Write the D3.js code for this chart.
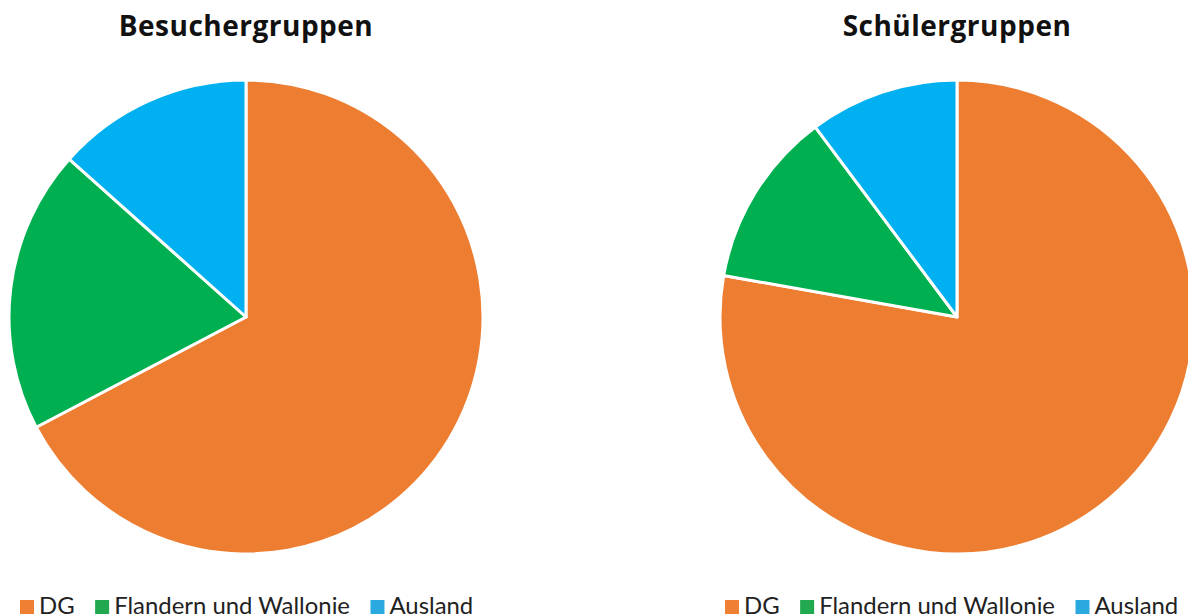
<!DOCTYPE html>
<html>
<head>
<meta charset="utf-8">
<script src="https://cdn.jsdelivr.net/npm/d3@7"></script>
<style>
  body { margin: 0; background: #fff; overflow: hidden; }
  text { font-family: Lato, "Open Sans", sans-serif; }
</style>
</head>
<body>
<div id="chart"></div>
<script>
// categories and shares (percent)
const categories = ["DG", "Flandern und Wallonie", "Ausland"];
const besucherValues = [67.3, 19.3, 13.4];
const schuelerValues = [77.8, 12.0, 10.2];
const titles = ["Besuchergruppen", "Schülergruppen"];

const sliceColors = ["#ED7D31", "#00B050", "#00B0F0"];
const legendColors = ["#EE7F33", "#22A84F", "#2AA9E0"];

const width = 1188, height = 615;
const radius = 237;

const svg = d3.select("#chart").append("svg")
    .attr("width", width)
    .attr("height", height);

const color = d3.scaleOrdinal().domain(categories).range(sliceColors);
const legendColor = d3.scaleOrdinal().domain(categories).range(legendColors);

const pie = d3.pie().sort(null).value(d => d.value);
const arc = d3.arc().innerRadius(0).outerRadius(radius);

const charts = [
  {title: titles[0], values: besucherValues, cx: 246, legendX: 20},
  {title: titles[1], values: schuelerValues, cx: 957, legendX: 725}
];

charts.forEach(c => {
  let data = categories.map((k, i) => ({key: k, value: c.values[i]}));

  // title
  svg.append("text")
      .attr("x", c.cx)
      .attr("y", 36)
      .attr("text-anchor", "middle")
      .style("font-family", "'Open Sans', sans-serif")
      .style("letter-spacing", "0.5px")
      .attr("font-size", "28px")
      .attr("font-weight", "bold")
      .attr("fill", "#111")
      .text(c.title);

  // pie
  let g = svg.append("g")
      .attr("transform", `translate(${c.cx},317)`);

  g.selectAll("path")
    .data(pie(data))
    .join("path")
      .attr("d", arc)
      .attr("fill", d => color(d.data.key))
      .attr("stroke", "#fff")
      .attr("stroke-width", 3)
      .attr("stroke-linejoin", "round");

  // legend
  let lg = svg.append("g")
      .attr("transform", `translate(${c.legendX},0)`);
  let x = 0;
  categories.forEach(k => {
    lg.append("rect")
        .attr("x", x)
        .attr("y", 600)
        .attr("width", 14)
        .attr("height", 14)
        .attr("fill", legendColor(k));
    let t = lg.append("text")
        .attr("x", x + 19)
        .attr("y", 614)
        .attr("font-size", "23.9px")
        .attr("fill", "#222")
        .text(k);
    x += 19 + t.node().getComputedTextLength() + 20.5;
  });
});
</script>
</body>
</html>
